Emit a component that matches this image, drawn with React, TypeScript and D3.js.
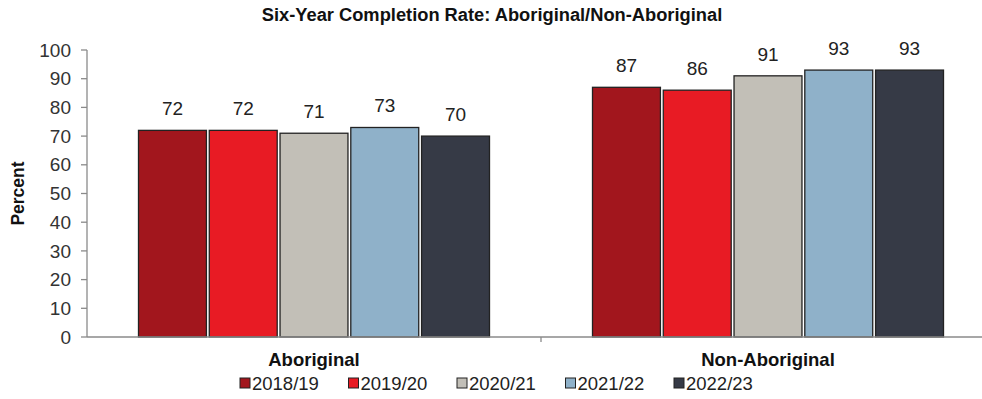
import React from "react";
import * as d3 from "d3";

const categories = ["Aboriginal", "Non-Aboriginal"];
const years = ["2018/19", "2019/20", "2020/21", "2021/22", "2022/23"];
const aboriginal = [72, 72, 71, 73, 70];
const nonAboriginal = [87, 86, 91, 93, 93];
const yTicks = [0, 10, 20, 30, 40, 50, 60, 70, 80, 90, 100];
const colors = ["#a2161d", "#e81b24", "#c2bfb7", "#8fb1c9", "#363a46"];

const W = 982;
const H = 399;
const FONT = "'Liberation Sans', Arial, sans-serif";

export default function App() {
  const seriesByCat = [aboriginal, nonAboriginal];
  const left = 87;
  const y = d3.scaleLinear().domain([0, 100]).range([337, 50]);
  const x0 = d3.scaleBand<string>().domain(categories).range([left, 995]);
  const bw0 = x0.bandwidth();
  const pad = 51.5;
  const x1 = d3.scaleBand<string>().domain(years).range([pad, bw0 - pad]).paddingInner(0.04);

  const legendX = d3.scaleLinear().domain([0, years.length - 1]).range([240, 674]);

  return (
    <svg width={W} height={H} style={{ position: "absolute", left: 0, top: 0, background: "#fff" }} fontFamily={FONT}>
      <text x={492} y={21} textAnchor="middle" fontSize={18.3} fontWeight="bold" fill="#111">
        Six-Year Completion Rate: Aboriginal/Non-Aboriginal
      </text>
      {/* y axis */}
      <line x1={left} x2={left} y1={y(100)} y2={y(0)} stroke="#8a8a8a" strokeWidth={1.3} />
      {yTicks.map((t) => (
        <g key={t}>
          <line x1={left - 6} x2={left} y1={y(t)} y2={y(t)} stroke="#8a8a8a" strokeWidth={1.3} />
          <text x={71} y={y(t)} dy="0.35em" textAnchor="end" fontSize={19} fill="#333">
            {t}
          </text>
        </g>
      ))}
      <text transform={`translate(24,${(y(0) + y(100)) / 2}) rotate(-90)`} textAnchor="middle" fontSize={17.5} fontWeight="bold" fill="#111">
        Percent
      </text>
      {/* bars */}
      {categories.map((c, ci) => (
        <g key={c} transform={`translate(${x0(c)},0)`}>
          {years.map((yr, i) => {
            const v = seriesByCat[ci][i];
            const bx = x1(yr)!;
            return (
              <g key={yr}>
                <rect x={bx} y={y(v)} width={x1.bandwidth()} height={y(0) - y(v)} fill={colors[i]} stroke="#222" strokeWidth={1.3} />
                <text x={bx + x1.bandwidth() / 2} y={y(v) - 15} textAnchor="middle" fontSize={19} fill="#222">
                  {v}
                </text>
              </g>
            );
          })}
          <text x={bw0 / 2} y={366} textAnchor="middle" fontSize={18.5} fontWeight="bold" fill="#111">
            {c}
          </text>
        </g>
      ))}
      {/* x axis */}
      <line x1={left} x2={W} y1={y(0)} y2={y(0)} stroke="#8a8a8a" strokeWidth={1.3} />
      <line x1={x0(categories[1])} x2={x0(categories[1])} y1={y(0)} y2={y(0) + 5} stroke="#8a8a8a" strokeWidth={1.3} />
      {/* legend */}
      {years.map((yr, i) => (
        <g key={yr} transform={`translate(${legendX(i)},383)`}>
          <rect x={0} y={-5} width={10} height={10} fill={colors[i]} stroke="#222" strokeWidth={1} />
          <text x={12} y={0} dy="0.36em" fontSize={18.5} fill="#222">
            {yr}
          </text>
        </g>
      ))}
    </svg>
  );
}
